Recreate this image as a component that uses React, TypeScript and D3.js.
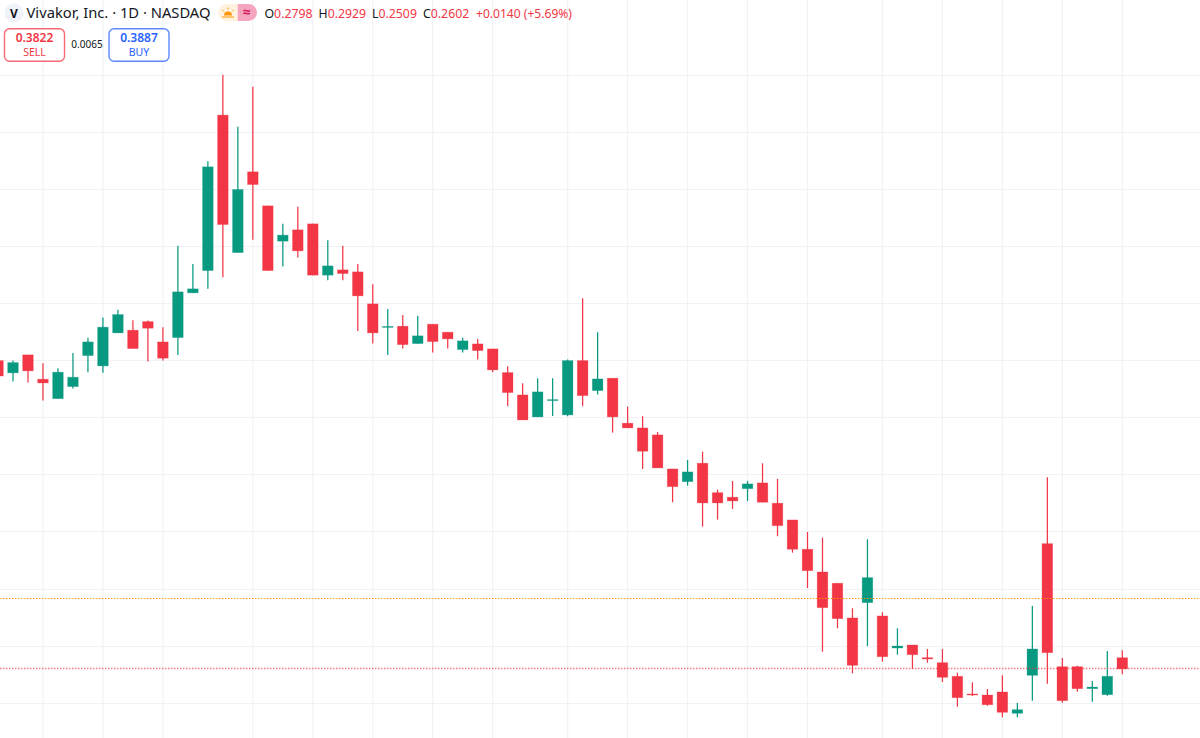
import * as d3 from "d3";

const opens = [0.8, 0.7785, 0.81, 0.7674, 0.7334, 0.7545, 0.8088, 0.7907, 0.8485, 0.8532, 0.8683, 0.8327, 0.8403, 0.9186, 0.9576, 1.2298, 0.9891, 1.1305, 1.0709, 1.0091, 1.0289, 1.0394, 0.9496, 0.9588, 0.9553, 0.8993, 0.8581, 0.8602, 0.8298, 0.8637, 0.8497, 0.8193, 0.8292, 0.8205, 0.779, 0.7399, 0.7014, 0.73, 0.7049, 0.8, 0.7475, 0.7692, 0.6904, 0.6821, 0.6699, 0.6103, 0.5881, 0.6203, 0.5688, 0.5608, 0.5758, 0.5858, 0.5503, 0.521, 0.4697, 0.4299, 0.4102, 0.3494, 0.3762, 0.3529, 0.2968, 0.3021, 0.2799, 0.2711, 0.2473, 0.2163, 0.2145, 0.2198, 0.1825, 0.249, 0.4795, 0.2641, 0.2641, 0.2256, 0.2151, 0.2798];
const closes = [0.773, 0.7965, 0.782, 0.7609, 0.7797, 0.7709, 0.8327, 0.8585, 0.8806, 0.821, 0.8567, 0.8042, 0.9203, 0.9256, 1.1392, 1.0382, 1.0995, 1.1082, 0.9576, 1.0196, 0.9921, 0.9496, 0.9658, 0.9524, 0.9133, 0.8485, 0.8599, 0.828, 0.8433, 0.8333, 0.838, 0.8345, 0.8175, 0.7837, 0.744, 0.6961, 0.7452, 0.7317, 0.8, 0.7387, 0.7679, 0.7014, 0.6821, 0.6413, 0.6121, 0.5793, 0.6051, 0.5508, 0.5508, 0.5543, 0.5841, 0.552, 0.511, 0.4697, 0.4322, 0.3674, 0.3482, 0.2665, 0.42, 0.2816, 0.3003, 0.2851, 0.2776, 0.2455, 0.2098, 0.2145, 0.1975, 0.1842, 0.1888, 0.2951, 0.2886, 0.2046, 0.2256, 0.2285, 0.2473, 0.2602];
const highs = [0.802, 0.8, 0.81, 0.7954, 0.7867, 0.8135, 0.8398, 0.8753, 0.8888, 0.8707, 0.87, 0.8585, 1.0009, 0.9693, 1.1492, 1.3003, 1.2093, 1.2793, 1.0709, 1.0394, 1.0692, 1.0394, 1.0108, 1.0009, 0.9693, 0.9338, 0.8905, 0.88, 0.8783, 0.8637, 0.8497, 0.8398, 0.838, 0.8205, 0.7902, 0.7604, 0.7692, 0.7692, 0.8017, 0.9093, 0.8497, 0.7692, 0.7194, 0.7026, 0.6751, 0.6103, 0.6261, 0.6406, 0.5741, 0.5893, 0.5893, 0.6203, 0.5928, 0.521, 0.5, 0.49, 0.4102, 0.3664, 0.4872, 0.3594, 0.3313, 0.3021, 0.2951, 0.2951, 0.2536, 0.2368, 0.225, 0.249, 0.2005, 0.3704, 0.5958, 0.2793, 0.2658, 0.2391, 0.2916, 0.2929];
const lows = [0.773, 0.7632, 0.7615, 0.73, 0.7334, 0.751, 0.7797, 0.7785, 0.8485, 0.821, 0.7983, 0.8, 0.81, 0.9186, 0.9256, 0.9461, 0.9891, 1.0114, 0.9576, 0.9646, 0.9804, 0.9496, 0.9408, 0.9408, 0.852, 0.8298, 0.81, 0.821, 0.8298, 0.814, 0.821, 0.814, 0.8017, 0.7797, 0.7201, 0.6961, 0.7014, 0.7031, 0.7026, 0.7201, 0.7405, 0.6739, 0.6821, 0.6103, 0.6121, 0.552, 0.5811, 0.5093, 0.5215, 0.5403, 0.5543, 0.552, 0.4925, 0.4637, 0.4019, 0.2904, 0.3313, 0.2525, 0.3003, 0.2729, 0.2851, 0.2601, 0.2711, 0.2373, 0.194, 0.2128, 0.1958, 0.1755, 0.1755, 0.2046, 0.2343, 0.201, 0.2203, 0.2028, 0.2133, 0.2509];

const priceTicks = [0.2, 0.3, 0.4, 0.5, 0.6, 0.7, 0.8, 0.9, 1.0, 1.1, 1.2, 1.3];
const timeTicks = [3, 7, 11, 17, 21, 25, 29, 33, 38, 42, 46, 50, 54, 59, 63, 67, 71, 75];
const midPrice = 0.3835;
const lastPrice = 0.2602;

const ohlcLabels = ["O", "H", "L", "C"];
const ohlcValues = ["0.2798", "0.2929", "0.2509", "0.2602"];
const ohlcX = [264.5, 318.5, 372, 423];

const width = 1200;
const height = 738;
const UP = "#089981";
const DOWN = "#f23645";
const GRID = "#f0f2f5";
const FONT = "'Noto Sans', 'Open Sans', sans-serif";

const x = d3.scaleLinear().domain([0, 75]).range([-2, 1122.3]);
const y = d3.scaleLinear().domain([0.2, 1.3]).range([703.3, 75]);
const crisp = (v: number) => Math.floor(v) + 0.5;

export default function App() {
  return (
    <svg
      width={width}
      height={height}
      style={{ position: "absolute", left: 0, top: 0, background: "#fff" }}
    >
      {/* grid */}
      {priceTicks.map((t) => (
        <line key={t} x1={0} x2={width} y1={crisp(y(t))} y2={crisp(y(t))} stroke={GRID} strokeWidth={1.2} />
      ))}
      {timeTicks.map((t) => (
        <line key={t} x1={x(t)} x2={x(t)} y1={0} y2={height} stroke={GRID} strokeWidth={1.2} />
      ))}

      {/* candles */}
      {opens.map((o, i) => {
        const c = closes[i];
        const color = c >= o ? UP : DOWN;
        const top = y(Math.max(o, c));
        const bodyH = Math.abs(y(o) - y(c));
        return (
          <g key={i}>
            <line x1={x(i)} x2={x(i)} y1={y(highs[i])} y2={y(lows[i])} stroke={color} strokeWidth={1.25} />
            <rect
              x={x(i) - 5.3}
              y={top}
              width={10.6}
              height={Math.max(bodyH, 1)}
              fill={color}
              stroke={color}
              strokeOpacity={0.35}
              strokeWidth={0.8}
            />
          </g>
        );
      })}

      {/* price lines */}
      <line x1={0} x2={width} y1={crisp(y(midPrice))} y2={crisp(y(midPrice))} stroke="#ff9800" strokeWidth={1.2} strokeDasharray="1.4 1.6" />
      <line x1={0} x2={width} y1={crisp(y(lastPrice))} y2={crisp(y(lastPrice))} stroke={DOWN} strokeOpacity={0.7} strokeWidth={1.3} strokeDasharray="1.4 1.6" />

      {/* legend */}
      <circle cx={14} cy={13} r={9.5} fill="#f0f3fa" />
      <text x={14} y={17.5} textAnchor="middle" fontFamily={FONT} fontSize={12} fontWeight={700} fill="#131722">V</text>
      <text x={26.5} y={18} fontFamily={FONT} fontSize={14} fill="#131722" textLength={184} lengthAdjust="spacingAndGlyphs">
        Vivakor, Inc. · 1D · NASDAQ
      </text>

      <path d="M237.7 4H226.5a8.5 8.5 0 0 0 0 17H237.7Z" fill="#fff3e0" />
      <path d="M237.7 4H248.5a8.5 8.5 0 0 1 0 17H237.7Z" fill="#f6a5bf" />
      <path d="M224 15.5a4 4 0 0 1 8 0Z M222 16.5h12v1h-12Z" fill="#ff9800" />
      <path d="M228 7.5v2 M222.5 10l1.5 1.5 M233.5 10l-1.5 1.5" stroke="#ff9800" strokeWidth={1} fill="none" />
      <text x={246.5} y={17} textAnchor="middle" fontFamily={FONT} fontSize={14} fontWeight={700} fill="#d81b60">≈</text>

      {ohlcLabels.map((l, i) => (
        <text key={l} x={ohlcX[i]} y={18} fontFamily={FONT} fontSize={12.3} fill="#131722">
          {l}
          <tspan fill={DOWN}>{ohlcValues[i]}</tspan>
        </text>
      ))}
      <text x={476} y={18} fontFamily={FONT} fontSize={12.3} fill={DOWN} textLength={96} lengthAdjust="spacingAndGlyphs">+0.0140 (+5.69%)</text>

      {/* sell and buy boxes */}
      <rect x={4.5} y={28.7} width={60} height={32.6} rx={5} fill="#fff" stroke={DOWN} strokeOpacity={0.75} strokeWidth={1.4} />
      <text x={34.5} y={41.5} textAnchor="middle" fontFamily={FONT} fontSize={12} fontWeight={600} fill={DOWN}>0.3822</text>
      <text x={34.5} y={56} textAnchor="middle" fontFamily={FONT} fontSize={10.5} fill={DOWN}>SELL</text>
      <text x={87} y={48} textAnchor="middle" fontFamily={FONT} fontSize={10} fill="#131722">0.0065</text>
      <rect x={109} y={28.7} width={60} height={32.6} rx={5} fill="#fff" stroke="#2962ff" strokeOpacity={0.75} strokeWidth={1.4} />
      <text x={139} y={41.5} textAnchor="middle" fontFamily={FONT} fontSize={12} fontWeight={600} fill="#2962ff">0.3887</text>
      <text x={139} y={56} textAnchor="middle" fontFamily={FONT} fontSize={10.5} fill="#2962ff">BUY</text>
    </svg>
  );
}
